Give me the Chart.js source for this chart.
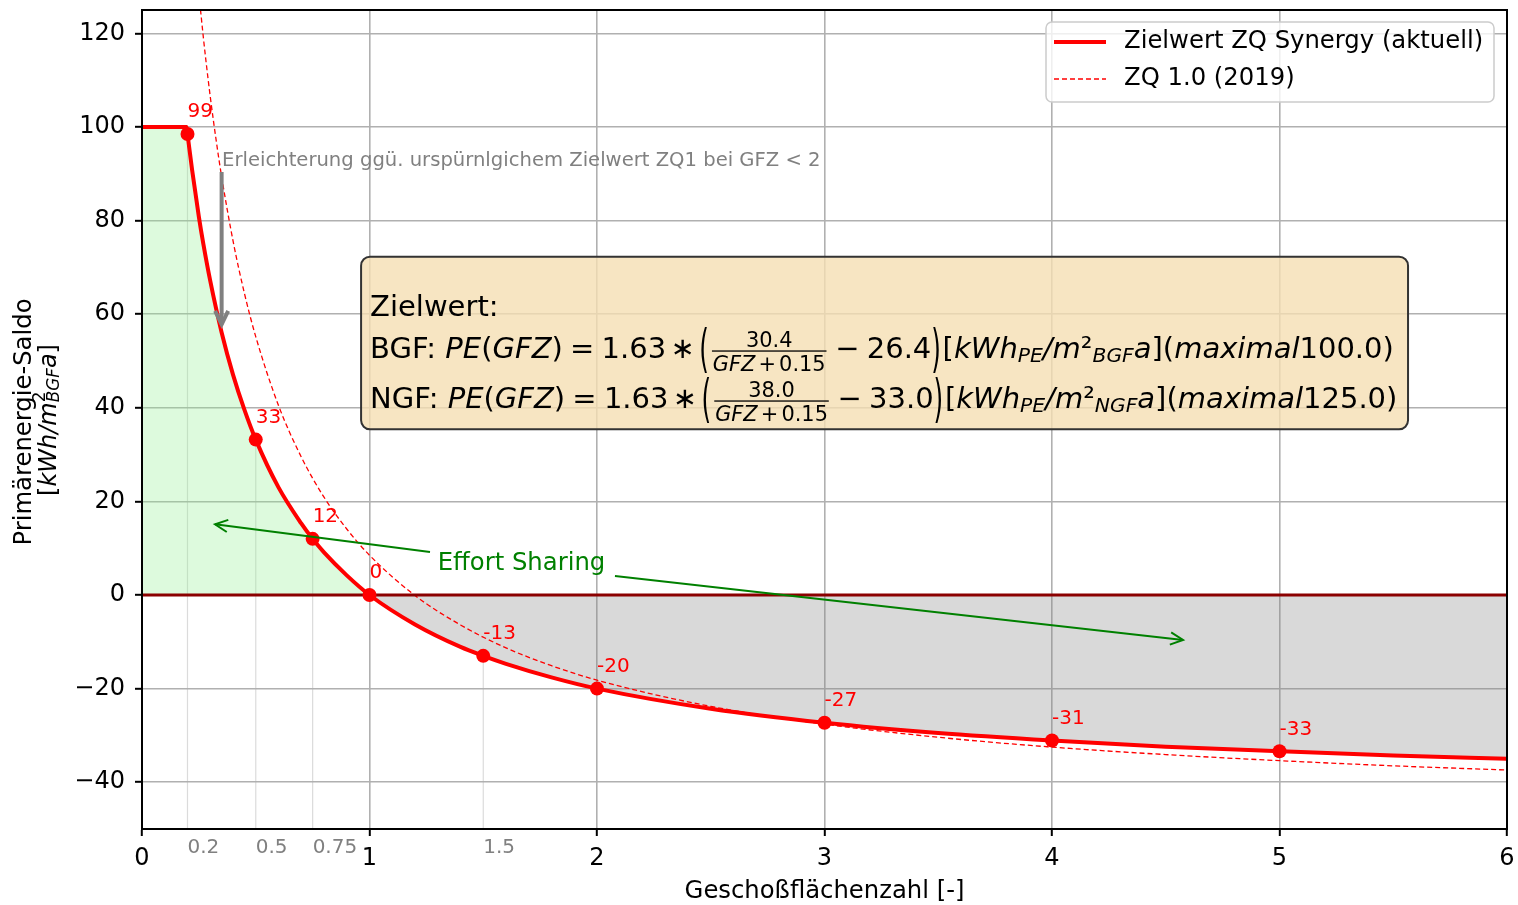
<!DOCTYPE html>
<html>
<head>
<meta charset="utf-8">
<script src="https://cdn.jsdelivr.net/npm/chart.js@4.4.1/dist/chart.umd.min.js"></script>
<style>
  html, body { margin: 0; padding: 0; background: #fff; }
</style>
</head>
<body>
<canvas id="chart" width="1518" height="905"></canvas>
<script>
// fonts & data
const FONT = '"DejaVu Sans", sans-serif';

const xTicks = [0, 1, 2, 3, 4, 5, 6];
const yTicks = [-40, -20, 0, 20, 40, 60, 80, 100, 120];
const minorTicks = [0.2, 0.5, 0.75, 1.5];
const minorTickLabels = ['0.2', '0.5', '0.75', '1.5'];
const minorTickTop = [98.5, 33.2, 12.0, -13.0];

// Zielwert ZQ Synergy (aktuell)
const gfzSynergy = [0, 0.196, 0.2, 0.22, 0.25, 0.27, 0.3, 0.35, 0.4, 0.45, 0.5, 0.6, 0.7, 0.75, 0.8, 0.9, 1.0,
  1.2, 1.4, 1.5, 1.6, 1.8, 2.0, 2.5, 3.0, 3.5, 4.0, 4.5, 5.0, 5.5, 6.0];
const peSynergy = [100, 100, 98.5, 90.9, 80.8, 74.9, 67.1, 56.1, 47.1, 39.6, 33.2, 23.0, 15.3, 12.0, 9.1, 4.2, 0.0,
  -6.3, -11.1, -13.0, -14.7, -17.6, -20.0, -24.3, -27.3, -29.5, -31.1, -32.4, -33.4, -34.3, -35.0];

// ZQ 1.0 (2019), dashed curve
const gfzZq2019 = [0.25, 0.27, 0.28, 0.3, 0.33, 0.35, 0.4, 0.45, 0.5, 0.6, 0.7, 0.8, 0.9, 1.0,
  1.2, 1.4, 1.6, 1.8, 2.0, 2.5, 3.0, 3.5, 4.0, 4.5, 5.0, 5.5, 6.0];
const peZq2019 = [128.5, 119.0, 114.6, 106.5, 95.8, 89.4, 75.7, 64.5, 55.2, 40.5, 29.5, 20.9, 14.1, 8.5,
  -0.1, -6.4, -11.3, -15.1, -18.2, -23.8, -27.6, -30.4, -32.5, -34.1, -35.4, -36.5, -37.4];

const markerGfz = [0.2, 0.5, 0.75, 1, 1.5, 2, 3, 4, 5];
const markerPe = [98.5, 33.2, 12.0, 0.0, -13.0, -20.0, -27.3, -31.1, -33.4];
const markerLabels = ['99', '33', '12', '0', '-13', '-20', '-27', '-31', '-33'];

const legendLabels = ['Zielwert ZQ Synergy (aktuell)', 'ZQ 1.0 (2019)'];

const synergyPts = gfzSynergy.map((x, i) => ({ x, y: peSynergy[i] }));
const zqPts = gfzZq2019.map((x, i) => ({ x, y: peZq2019[i] }));
const markerPts = markerGfz.map((x, i) => ({ x, y: markerPe[i] }));

// text helpers (simple mathtext-ish runs)
function setFont(ctx, it, px) {
  ctx.font = (it ? 'italic ' : '') + px.toFixed(1) + 'px ' + FONT;
}

function drawRuns(ctx, runs, x, y, S, measureOnly) {
  for (const r of runs) {
    if (r.gap) { x += r.gap * S; continue; }
    if (r.stack) {
      let w = 0;
      for (const s of r.stack) {
        setFont(ctx, s.i, S * (s.sc || 1));
        if (!measureOnly) ctx.fillText(s.t, x, y + (s.dy || 0) * S);
        w = Math.max(w, ctx.measureText(s.t).width);
      }
      x += w;
      continue;
    }
    if (r.frac) {
      const fs = S * 0.72;
      const nw = drawRuns(ctx, r.frac[0], 0, 0, fs, true);
      const dw = drawRuns(ctx, r.frac[1], 0, 0, fs, true);
      const w = Math.max(nw, dw) + 0.16 * S;
      if (!measureOnly) {
        drawRuns(ctx, r.frac[0], x + (w - nw) / 2, y - 0.36 * S, fs, false);
        drawRuns(ctx, r.frac[1], x + (w - dw) / 2, y + 0.45 * S, fs, false);
        ctx.fillRect(x + 0.05 * S, y - 0.25 * S, w - 0.1 * S, 1.3);
      }
      x += w;
      continue;
    }
    if (r.tall) {
      setFont(ctx, false, S);
      if (!measureOnly) {
        ctx.save();
        ctx.translate(x, y - 0.25 * S);
        ctx.scale(0.85, 1.75);
        ctx.fillText(r.tall, 0, 0.31 * S);
        ctx.restore();
      }
      x += ctx.measureText(r.tall).width;
      continue;
    }
    setFont(ctx, r.i, S * (r.sc || 1));
    if (!measureOnly) ctx.fillText(r.t, x, y + (r.dy || 0) * S);
    x += ctx.measureText(r.t).width;
  }
  return x;
}

function formulaRuns(label, num, off, sub, maxv) {
  return [
    { t: label + ': ' }, { t: 'PE', i: 1 }, { t: '(' }, { t: 'GFZ', i: 1 }, { t: ')' },
    { gap: 0.25 }, { t: '=' }, { gap: 0.25 }, { t: '1.63' }, { gap: 0.15 }, { t: '\u2217' }, { gap: 0.15 },
    { tall: '(' },
    { frac: [[{ t: num }], [{ t: 'GFZ', i: 1 }, { gap: 0.15 }, { t: '+' }, { gap: 0.15 }, { t: '0.15' }]] },
    { gap: 0.25 }, { t: '\u2212' }, { gap: 0.25 }, { t: off }, { tall: ')' },
    { t: '[' }, { t: 'kWh', i: 1 }, { t: 'PE', i: 1, sc: 0.7, dy: 0.15 }, { t: '/', i: 1 }, { t: 'm', i: 1 },
    { t: '\u00b2' }, { t: sub, i: 1, sc: 0.7, dy: 0.15 }, { t: 'a', i: 1 }, { t: '](' },
    { t: 'maximal', i: 1 }, { t: maxv + ')' }
  ];
}

function arrow(ctx, x1, y1, x2, y2, color, lw, head, spread) {
  ctx.strokeStyle = color;
  ctx.lineWidth = lw;
  ctx.lineCap = 'butt';
  ctx.lineJoin = 'miter';
  ctx.beginPath();
  ctx.moveTo(x1, y1);
  ctx.lineTo(x2, y2);
  ctx.stroke();
  const a = Math.atan2(y2 - y1, x2 - x1);
  ctx.beginPath();
  ctx.moveTo(x2 - head * Math.cos(a - spread), y2 - head * Math.sin(a - spread));
  ctx.lineTo(x2, y2);
  ctx.lineTo(x2 - head * Math.cos(a + spread), y2 - head * Math.sin(a + spread));
  ctx.stroke();
}

function roundRect(ctx, x, y, w, h, r) {
  ctx.beginPath();
  ctx.moveTo(x + r, y);
  ctx.arcTo(x + w, y, x + w, y + h, r);
  ctx.arcTo(x + w, y + h, x, y + h, r);
  ctx.arcTo(x, y + h, x, y, r);
  ctx.arcTo(x, y, x + w, y, r);
  ctx.closePath();
}

// faint helper lines under the curve
const guideLines = {
  id: 'guideLines',
  beforeDatasetsDraw(chart) {
    const { ctx, scales: { x, y } } = chart;
    ctx.save();
    ctx.strokeStyle = 'rgba(176,176,176,0.45)';
    ctx.lineWidth = 1.2;
    minorTicks.forEach((v, i) => {
      const px = x.getPixelForValue(v);
      ctx.beginPath();
      ctx.moveTo(px, y.getPixelForValue(-50));
      ctx.lineTo(px, y.getPixelForValue(minorTickTop[i]));
      ctx.stroke();
    });
    ctx.restore();
  }
};

// everything drawn over the data
const overlay = {
  id: 'overlay',
  afterDatasetsDraw(chart) {
    const { ctx, chartArea: ca, scales: { x, y } } = chart;
    const X = v => x.getPixelForValue(v);
    const Y = v => y.getPixelForValue(v);
    ctx.save();

    // frame
    ctx.strokeStyle = '#000';
    ctx.lineWidth = 2;
    ctx.strokeRect(ca.left, ca.top, ca.right - ca.left, ca.bottom - ca.top);

    // point labels
    ctx.fillStyle = '#ff0000';
    ctx.font = '20px ' + FONT;
    ctx.textAlign = 'left';
    ctx.textBaseline = 'middle';
    markerPts.forEach((p, i) => ctx.fillText(markerLabels[i], X(p.x), Y(p.y) - 22));

    // minor tick labels
    ctx.fillStyle = '#808080';
    ctx.font = '20px ' + FONT;
    minorTicks.forEach((v, i) => ctx.fillText(minorTickLabels[i], X(v), ca.bottom + 19));

    // gray note and arrow
    ctx.fillStyle = '#808080';
    ctx.font = '19.6px ' + FONT;
    ctx.fillText('Erleichterung ggü. urspürnlgichem Zielwert ZQ1 bei GFZ < 2', X(0.352), Y(92.8));
    arrow(ctx, X(0.35), Y(90.4), X(0.35), Y(57.8), '#808080', 4, 15, 0.45);

    // effort sharing
    ctx.fillStyle = '#008000';
    ctx.font = '24.3px ' + FONT;
    ctx.fillText('Effort Sharing', X(1.30), Y(6.6));
    arrow(ctx, X(1.266), Y(9.2), X(0.321), Y(15.1), '#008000', 2, 14, 0.45);
    arrow(ctx, X(2.079), Y(4.05), X(4.576), Y(-9.6), '#008000', 2, 14, 0.45);

    // formula box
    const bx = X(0.963), by = Y(72.3), bw = X(5.565) - bx, bh = Y(35.4) - by;
    roundRect(ctx, bx, by, bw, bh, 9);
    ctx.fillStyle = 'rgba(245,222,179,0.8)';
    ctx.fill();
    ctx.strokeStyle = '#333';
    ctx.lineWidth = 2;
    ctx.stroke();
    ctx.fillStyle = '#000';
    ctx.textBaseline = 'alphabetic';
    const S = 29;
    const tx = bx + 9;
    setFont(ctx, false, S);
    ctx.fillText('Zielwert:', tx, by + 59);
    drawRuns(ctx, formulaRuns('BGF', '30.4', '26.4', 'BGF', '100.0'), tx, by + 101, S, false);
    drawRuns(ctx, formulaRuns('NGF', '38.0', '33.0', 'NGF', '125.0'), tx, by + 151, S, false);

    // legend
    const lx = 1046, ly = 22, lw = 448, lh = 80;
    roundRect(ctx, lx, ly, lw, lh, 6);
    ctx.fillStyle = 'rgba(255,255,255,0.8)';
    ctx.fill();
    ctx.strokeStyle = '#cccccc';
    ctx.lineWidth = 1.5;
    ctx.stroke();
    ctx.strokeStyle = '#ff0000';
    ctx.lineWidth = 4;
    ctx.beginPath(); ctx.moveTo(1054, 42); ctx.lineTo(1106, 42); ctx.stroke();
    ctx.lineWidth = 1.3;
    ctx.setLineDash([5, 3]);
    ctx.beginPath(); ctx.moveTo(1054, 79); ctx.lineTo(1106, 79); ctx.stroke();
    ctx.setLineDash([]);
    ctx.fillStyle = '#000';
    ctx.font = '24.3px ' + FONT;
    ctx.textBaseline = 'middle';
    ctx.fillText(legendLabels[0], 1124, 42);
    ctx.fillText(legendLabels[1], 1124, 79);

    // axis titles
    ctx.textAlign = 'center';
    ctx.fillText('Geschoßflächenzahl [-]', (ca.left + ca.right) / 2, 892);

    ctx.save();
    ctx.translate(25, 422);
    ctx.rotate(-Math.PI / 2);
    ctx.fillText('Primärenergie-Saldo', 0, 0);
    ctx.restore();

    const unitRuns = [
      { t: '[' }, { t: 'kWh/m', i: 1 },
      { stack: [{ t: '2', sc: 0.7, dy: -0.38 }, { t: 'BGF', i: 1, sc: 0.7, dy: 0.2 }] },
      { t: 'a', i: 1 }, { t: ']' }
    ];
    ctx.save();
    ctx.translate(50, 420);
    ctx.rotate(-Math.PI / 2);
    ctx.textAlign = 'left';
    const uw = drawRuns(ctx, unitRuns, 0, 0, 24, true);
    drawRuns(ctx, unitRuns, -uw / 2, 0, 24, false);
    ctx.restore();

    ctx.restore();
  }
};

const fmt = v => (v < 0 ? '\u2212' + Math.abs(v) : String(v));

new Chart(document.getElementById('chart'), {
  type: 'line',
  data: {
    datasets: [
      { data: markerPts, showLine: false, pointRadius: 7, pointBackgroundColor: '#ff0000',
        pointBorderWidth: 0, order: 0 },
      { data: synergyPts, borderColor: '#ff0000', borderWidth: 4, pointRadius: 0,
        cubicInterpolationMode: 'monotone', order: 1 },
      { data: [{ x: 0, y: 0 }, { x: 6, y: 0 }], borderColor: '#8b0000', borderWidth: 3,
        pointRadius: 0, order: 2 },
      { data: zqPts, borderColor: '#ff0000', borderWidth: 1.3, borderDash: [5, 3], pointRadius: 0,
        cubicInterpolationMode: 'monotone', order: 3 },
      { data: synergyPts.filter(p => p.x <= 1), borderColor: 'transparent', pointRadius: 0,
        fill: 'origin', backgroundColor: 'rgba(144,238,144,0.3)', cubicInterpolationMode: 'monotone', order: 4 },
      { data: synergyPts.filter(p => p.x >= 1), borderColor: 'transparent', pointRadius: 0,
        fill: 'origin', backgroundColor: 'rgba(128,128,128,0.3)', cubicInterpolationMode: 'monotone', order: 5 }
    ]
  },
  options: {
    responsive: false,
    animation: false,
    devicePixelRatio: 1,
    layout: { padding: { top: 10, right: 11, left: 0, bottom: 0 } },
    plugins: { legend: { display: false }, tooltip: { enabled: false } },
    scales: {
      x: {
        type: 'linear', min: 0, max: 6,
        afterBuildTicks: s => { s.ticks = xTicks.map(v => ({ value: v })); },
        afterFit: s => { s.height = 76; s.paddingLeft = 0; s.paddingRight = 0; },
        grid: { color: '#b0b0b0', lineWidth: 1.6, tickColor: '#000', tickLength: 7, tickWidth: 2 },
        border: { display: true, color: '#000', width: 2 },
        ticks: { font: { family: FONT, size: 24 }, color: '#000', padding: 8, maxRotation: 0,
          autoSkip: false, callback: fmt }
      },
      y: {
        type: 'linear', min: -50, max: 125,
        afterBuildTicks: s => { s.ticks = yTicks.map(v => ({ value: v })); },
        afterFit: s => { s.width = 142; s.paddingTop = 0; s.paddingBottom = 0; },
        grid: { color: '#b0b0b0', lineWidth: 1.6, tickColor: '#000', tickLength: 7, tickWidth: 2 },
        border: { display: true, color: '#000', width: 2 },
        ticks: { font: { family: FONT, size: 24 }, color: '#000', padding: 10, autoSkip: false, callback: fmt }
      }
    }
  },
  plugins: [guideLines, overlay]
});
</script>
</body>
</html>
